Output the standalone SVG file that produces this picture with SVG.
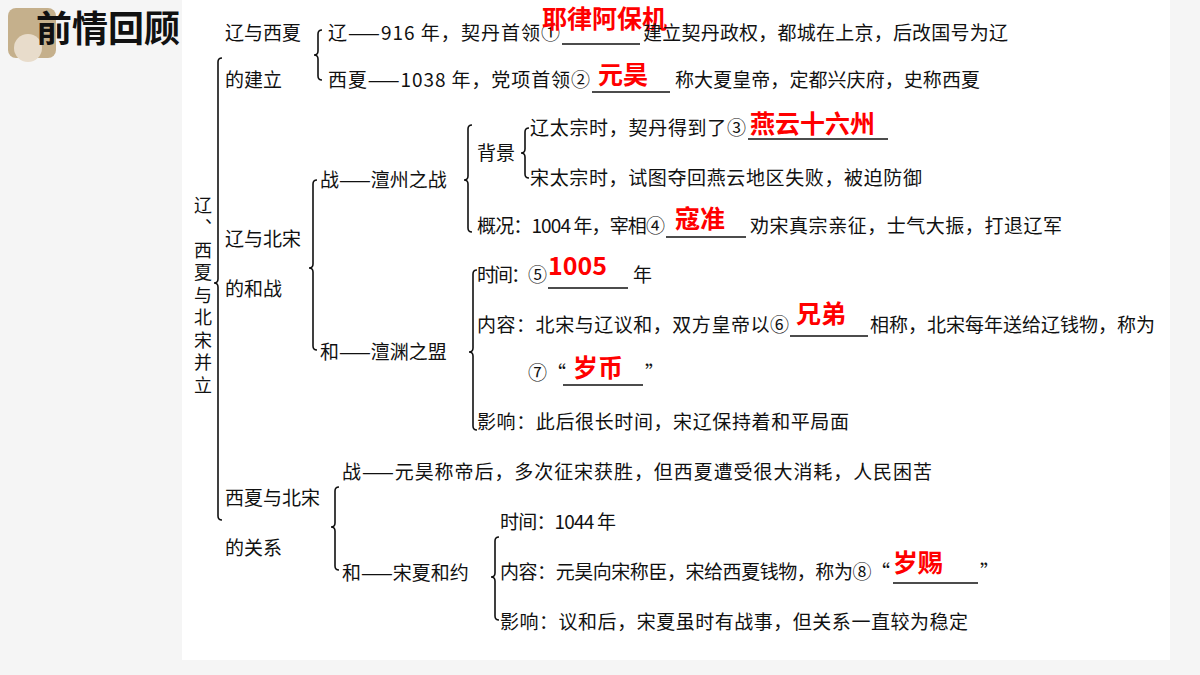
<svg xmlns="http://www.w3.org/2000/svg" width="1200" height="675" viewBox="0 0 1200 675">
<style>
text{font-family:"Noto Sans CJK SC","Liberation Sans",sans-serif;fill:#111;font-size:19px}
.a{fill:#f00;font-weight:bold;font-size:25px}
.v{font-size:18px;writing-mode:vertical-rl;letter-spacing:4.5px}
.br{fill:none;stroke:#111;stroke-width:1.6}
.u{stroke:#111;stroke-width:1.3}
</style>
<rect width="1200" height="675" fill="#f5f5f5"/>
<rect x="182" y="0" width="988" height="660" fill="#fff"/>
<g id="title">
<rect x="8" y="8" width="48" height="50" rx="8" fill="#c5b08c"/>
<circle cx="28" cy="48" r="14" fill="#e8dccb"/>
<text x="36" y="42" style="font-size:36px;font-weight:bold">前情回顾</text>
</g>
<g id="connectors">
<path class="br" d="M222,58 Q218,58 218,62 L218,279 Q218,283 214,283 Q218,283 218,287 L218,516 Q218,520 222,520"/>
<path class="br" d="M322,30 Q318,30 318,34 L318,51 Q318,55 314,55 Q318,55 318,59 L318,76 Q318,80 322,80"/>
<path class="br" d="M317,180 Q313,180 313,184 L313,264 Q313,268 309,268 Q313,268 313,272 L313,346 Q313,350 317,350"/>
<path class="br" d="M472,125 Q468,125 468,129 L468,176 Q468,180 464,180 Q468,180 468,184 L468,228 Q468,232 472,232"/>
<path class="br" d="M529,128 Q525,128 525,132 L525,149 Q525,153 521,153 Q525,153 525,157 L525,174 Q525,178 529,178"/>
<path class="br" d="M477,270 Q473,270 473,274 L473,348 Q473,352 469,352 Q473,352 473,356 L473,426 Q473,430 477,430"/>
<path class="br" d="M339,487 Q335,487 335,491 L335,523 Q335,527 331,527 Q335,527 335,531 L335,566 Q335,570 339,570"/>
<path class="br" d="M499,537 Q495,537 495,541 L495,573 Q495,577 491,577 Q495,577 495,581 L495,616 Q495,620 499,620"/>
</g>
<g id="root">
<text class="v" x="203" y="196">辽、西夏与北宋并立</text>
</g>
<g id="n1">
<text x="225" y="40">辽与西夏</text><text x="225" y="87">的建立</text>
<text x="328" y="40" textLength="232">辽——916 年，契丹首领①</text>
<line class="u" x1="562" y1="44" x2="640" y2="44"/>
<text class="a" x="542" y="28">耶律阿保机</text>
<text x="643" y="40" textLength="365">建立契丹政权，都城在上京，后改国号为辽</text>
<text x="328" y="87" textLength="262">西夏——1038 年，党项首领②</text>
<line class="u" x1="592" y1="92" x2="670" y2="92"/>
<text class="a" x="598" y="84">元昊</text>
<text x="675" y="87" textLength="305">称大夏皇帝，定都兴庆府，史称西夏</text>
</g>
<g id="n2">
<text x="225" y="246">辽与北宋</text><text x="225" y="296">的和战</text>
<text x="320" y="187">战——澶州之战</text>
<text x="477" y="160">背景</text>
<text x="530" y="135" textLength="216">辽太宗时，契丹得到了③</text>
<line class="u" x1="748" y1="139" x2="888" y2="139"/>
<text class="a" x="750" y="133">燕云十六州</text>
<text x="530" y="185" textLength="392">宋太宗时，试图夺回燕云地区失败，被迫防御</text>
<text x="477" y="233" textLength="188">概况：1004 年，宰相④</text>
<line class="u" x1="666" y1="237" x2="746" y2="237"/>
<text class="a" x="675" y="228">寇准</text>
<text x="750" y="233" textLength="312">劝宋真宗亲征，士气大振，打退辽军</text>
<text x="320" y="359">和——澶渊之盟</text>
<text x="477" y="282" textLength="70">时间：⑤</text>
<line class="u" x1="548" y1="288" x2="628" y2="288"/>
<text class="a" x="548" y="275">1005</text>
<text x="633" y="282">年</text>
<text x="477" y="332" textLength="312">内容：北宋与辽议和，双方皇帝以⑥</text>
<line class="u" x1="790" y1="336" x2="868" y2="336"/>
<text class="a" x="796" y="323">兄弟</text>
<text x="870" y="332" textLength="285">相称，北宋每年送给辽钱物，称为</text>
<text x="528" y="380">⑦“</text>
<line class="u" x1="563" y1="385" x2="643" y2="385"/>
<text class="a" x="573" y="377">岁币</text>
<text x="645" y="380">”</text>
<text x="477" y="429" textLength="372">影响：此后很长时间，宋辽保持着和平局面</text>
</g>
<g id="n3">
<text x="225" y="505">西夏与北宋</text><text x="225" y="555">的关系</text>
<text x="342" y="479" textLength="590">战——元昊称帝后，多次征宋获胜，但西夏遭受很大消耗，人民困苦</text>
<text x="342" y="580">和——宋夏和约</text>
<text x="500" y="529" textLength="116">时间：1044 年</text>
<text x="500" y="579" textLength="390">内容：元昊向宋称臣，宋给西夏钱物，称为⑧“</text>
<line class="u" x1="893" y1="583" x2="978" y2="583"/>
<text class="a" x="893" y="572">岁赐</text>
<text x="980" y="579">”</text>
<text x="500" y="629" textLength="468">影响：议和后，宋夏虽时有战事，但关系一直较为稳定</text>
</g>
</svg>
